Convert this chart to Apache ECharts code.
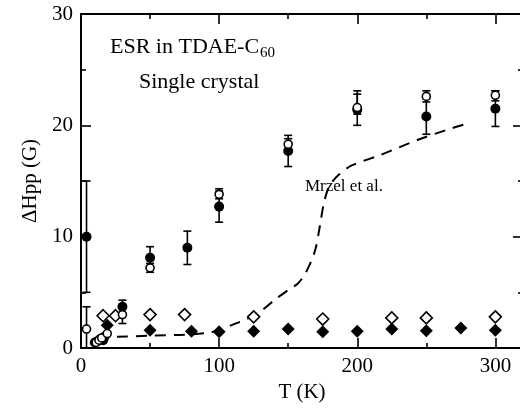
<!DOCTYPE html>
<html>
<head>
<meta charset="utf-8">
<script src="https://cdn.jsdelivr.net/npm/echarts@6/dist/echarts.min.js"></script>
<style>
html,body{margin:0;padding:0;background:#fff;overflow:hidden;}
#c{width:526px;height:411px;}
</style>
</head>
<body>
<div id="c"></div>
<script>
// Filled circles: [T, value, errLow, errHigh]
const filledCircles = [
  [4, 10, 5, 15],
  [10, 0.5], [12, 0.6], [14, 0.8], [16, 0.7], [17, 1.0],
  [30, 3.7, 3.1, 4.3],
  [50, 8.1, 7.1, 9.1],
  [77, 9.0, 7.5, 10.5],
  [100, 12.7, 11.3, 14.1],
  [150, 17.7, 16.3, 19.1],
  [200, 21.4, 20.0, 22.8],
  [250, 20.8, 19.2, 22.4],
  [300, 21.5, 19.9, 23.1]
];
// Open circles
const openCircles = [
  [4, 1.7, 0, 3.7],
  [11, 0.5], [13, 0.7], [15, 0.9], [19, 1.3],
  [30, 3.0, 2.2, 3.8],
  [50, 7.2, 6.8, 7.6],
  [100, 13.8, 13.4, 14.3],
  [150, 18.3, 17.8, 18.8],
  [200, 21.6, 21.0, 23.1],
  [250, 22.6, 22.1, 23.1],
  [300, 22.7, 22.2, 23.1]
];
// Open diamonds
const openDiamonds = [
  [16, 2.9], [25, 2.9], [50, 3.0], [75, 3.0], [125, 2.8],
  [175, 2.6], [225, 2.7], [250, 2.7], [300, 2.8]
];
// Filled diamonds
const filledDiamonds = [
  [19, 2.05], [50, 1.6], [80, 1.5], [100, 1.45], [125, 1.5],
  [150, 1.7], [175, 1.45], [200, 1.5], [225, 1.7], [250, 1.55],
  [275, 1.8], [300, 1.6]
];
// Mrzel et al. (dashed curve)
const mrzel = [
  [26, 1.0], [50, 1.1], [75, 1.2], [90, 1.35], [100, 1.6], [110, 2.1],
  [120, 2.6], [130, 3.3], [140, 4.3], [150, 5.2], [157, 5.8], [162, 6.6],
  [167, 7.9], [170, 9.0], [173, 11.0], [176, 13.1], [180, 14.6], [187, 15.6],
  [196, 16.4], [216, 17.3], [244, 18.7], [265, 19.6], [278, 20.1]
];
const xTicks = [0, 100, 200, 300];
const yTicks = [0, 10, 20, 30];

const FONT = 'Liberation Serif';
const chart = echarts.init(document.getElementById('c'));

function errData(arr) {
  return arr.filter(d => d.length === 4).map(d => [d[0], d[2], d[3]]);
}
function errSeries(arr) {
  return {
    type: 'custom',
    data: errData(arr),
    z: 1,
    silent: true,
    renderItem: function (params, api) {
      const x = api.value(0);
      const lo = api.coord([x, api.value(1)]);
      const hi = api.coord([x, api.value(2)]);
      const cw = 4;
      const st = { stroke: '#000', lineWidth: 1.6 };
      return {
        type: 'group',
        children: [
          { type: 'line', shape: { x1: lo[0], y1: lo[1], x2: hi[0], y2: hi[1] }, style: st },
          { type: 'line', shape: { x1: lo[0] - cw, y1: lo[1], x2: lo[0] + cw, y2: lo[1] }, style: st },
          { type: 'line', shape: { x1: hi[0] - cw, y1: hi[1], x2: hi[0] + cw, y2: hi[1] }, style: st }
        ]
      };
    }
  };
}

const axisCommon = {
  axisLine: { show: true, onZero: false, lineStyle: { color: '#000', width: 2 } },
  axisTick: { show: true, inside: true, length: 10, lineStyle: { color: '#000', width: 1.6 } },
  minorTick: { show: true, splitNumber: 2, length: 5, lineStyle: { color: '#000', width: 1.6 } },
  splitLine: { show: false }
};

chart.setOption({
  animation: false,
  backgroundColor: '#fff',
  grid: { left: 81, right: 1, top: 14, bottom: 63, containLabel: false },
  xAxis: [
    Object.assign({}, axisCommon, {
      type: 'value', min: 0, max: 320, interval: 100, position: 'bottom',
      name: 'T (K)', nameLocation: 'middle', nameGap: 31,
      nameTextStyle: { fontFamily: FONT, fontSize: 21, color: '#000' },
      axisLabel: {
        fontFamily: FONT, fontSize: 21, color: '#000', margin: 8,
        formatter: v => xTicks.indexOf(v) >= 0 ? String(v) : ''
      }
    }),
    Object.assign({}, axisCommon, {
      type: 'value', min: 0, max: 320, interval: 100, position: 'top',
      axisLabel: { show: false }
    })
  ],
  yAxis: [
    Object.assign({}, axisCommon, {
      type: 'value', min: 0, max: 30, interval: 10, position: 'left',
      name: 'ΔHpp (G)', nameLocation: 'middle', nameGap: 36, nameRotate: 90,
      nameTextStyle: { fontFamily: FONT, fontSize: 21, color: '#000' },
      axisLabel: {
        fontFamily: FONT, fontSize: 21, color: '#000', margin: 8,
        formatter: v => yTicks.indexOf(v) >= 0 ? String(v) : ''
      }
    }),
    Object.assign({}, axisCommon, {
      type: 'value', min: 0, max: 30, interval: 10, position: 'right',
      axisLabel: { show: false }
    })
  ],
  series: [
    {
      type: 'line', data: mrzel, showSymbol: false, smooth: 0.3, z: 0,
      lineStyle: { color: '#000', width: 2, type: [11, 8] }
    },
    errSeries(filledCircles),
    errSeries(openCircles),
    {
      type: 'scatter', data: filledDiamonds.map(d => [d[0], d[1]]), symbol: 'diamond', symbolSize: 13, z: 3,
      itemStyle: { color: '#000', opacity: 1 }
    },
    {
      type: 'scatter', data: openDiamonds.map(d => [d[0], d[1]]), symbol: 'diamond', symbolSize: 12, z: 3,
      itemStyle: { color: '#fff', borderColor: '#000', borderWidth: 1.6, opacity: 1 }
    },
    {
      type: 'scatter', data: filledCircles.map(d => [d[0], d[1]]), symbol: 'circle', symbolSize: 10, z: 4,
      itemStyle: { color: '#000', opacity: 1 }
    },
    {
      type: 'scatter', data: openCircles.map(d => [d[0], d[1]]), symbol: 'circle', symbolSize: 8, z: 5,
      itemStyle: { color: '#fff', borderColor: '#000', borderWidth: 1.6, opacity: 1 }
    }
  ],
  graphic: [
    {
      type: 'text', left: 110, top: 36,
      style: {
        text: 'ESR in TDAE-C{sub|60}', fontFamily: FONT, fontSize: 22, fill: '#000',
        rich: { sub: { fontFamily: FONT, fontSize: 15, padding: [12, 0, 0, 1], fill: '#000' } }
      }
    },
    {
      type: 'text', left: 139, top: 71,
      style: { text: 'Single crystal', fontFamily: FONT, fontSize: 22, fill: '#000' }
    },
    {
      type: 'text', left: 305, top: 178,
      style: { text: 'Mrzel et al.', fontFamily: FONT, fontSize: 17, fill: '#000' }
    }
  ]
});
</script>
</body>
</html>
